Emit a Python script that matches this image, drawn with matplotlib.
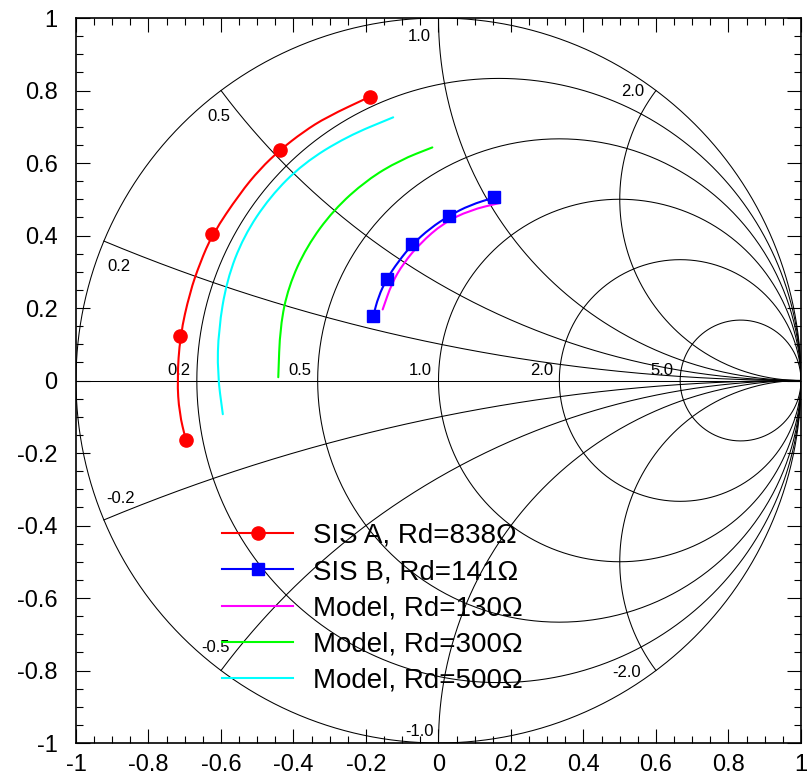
"""
Smith chart: measured SIS junction impedances vs. model curves for several Rd.
Grid is a plain impedance Smith chart (r and x circles), data drawn on top.
"""

import numpy as np
import matplotlib
matplotlib.use("Agg")
import matplotlib.pyplot as plt
from matplotlib.path import Path
from matplotlib.patches import PathPatch

plt.rcParams["font.family"] = ["Liberation Sans", "DejaVu Sans"]

# ---------------------------------------------------------------------------
# Data (reflection coefficient, re / im)
# ---------------------------------------------------------------------------
sis_a_pts_x = [-0.189, -0.437, -0.624, -0.713, -0.697]
sis_a_pts_y = [0.783, 0.636, 0.403, 0.123, -0.164]
sis_a_line_x = [-0.189, -0.308, -0.373, -0.437, -0.492, -0.548, -0.624,
                -0.658, -0.686, -0.713, -0.721, -0.715, -0.697]
sis_a_line_y = [0.783, 0.727, 0.686, 0.636, 0.584, 0.516, 0.403,
                0.324, 0.243, 0.123, 0.001, -0.090, -0.164]

sis_b_pts_x = [0.154, 0.030, -0.072, -0.143, -0.180]
sis_b_pts_y = [0.505, 0.455, 0.376, 0.280, 0.178]
sis_b_line_x = [0.154, 0.087, 0.030, -0.023, -0.072, -0.111, -0.143, -0.166, -0.180]
sis_b_line_y = [0.505, 0.484, 0.455, 0.420, 0.376, 0.328, 0.280, 0.231, 0.178]

model_130_x = [0.170, 0.087, 0.013, -0.051, -0.097, -0.129, -0.154]
model_130_y = [0.490, 0.470, 0.434, 0.378, 0.323, 0.268, 0.196]

model_300_x = [-0.017, -0.106, -0.198, -0.290, -0.364, -0.414, -0.437, -0.442]
model_300_y = [0.643, 0.608, 0.553, 0.470, 0.369, 0.259, 0.148, 0.009]

model_500_x = [-0.125, -0.253, -0.373, -0.465, -0.538, -0.584, -0.607, -0.610, -0.595]
model_500_y = [0.726, 0.673, 0.599, 0.507, 0.397, 0.277, 0.139, 0.020, -0.093]

# grid values
R_CIRCLES = [0.0, 0.2, 0.5, 1.0, 2.0, 5.0]
X_ARCS = [0.2, 0.5, 1.0, 2.0]
R_LABELS = ["0.2", "0.5", "1.0", "2.0", "5.0"]
X_LABELS = ["0.2", "0.5", "1.0", "2.0"]
ticks = [-1, -0.8, -0.6, -0.4, -0.2, 0, 0.2, 0.4, 0.6, 0.8, 1]
tick_labels = ["-1", "-0.8", "-0.6", "-0.4", "-0.2", "0", "0.2", "0.4", "0.6", "0.8", "1"]

GRID_KW = dict(color="black", lw=0.75, zorder=1)


# ---------------------------------------------------------------------------
# Smith chart grid
# ---------------------------------------------------------------------------
def z_to_gamma(z):
    return (z - 1) / (z + 1)


def draw_grid(ax):
    t = np.linspace(0, 2 * np.pi, 721)
    for r in R_CIRCLES:
        c, rad = r / (1 + r), 1 / (1 + r)
        ax.plot(c + rad * np.cos(t), rad * np.sin(t), **GRID_KW)
    r_vals = np.concatenate([[0], np.logspace(-3, 4, 600)])
    for x in X_ARCS:
        for sign in (1, -1):
            g = z_to_gamma(r_vals + 1j * sign * x)
            ax.plot(g.real, g.imag, **GRID_KW)
    ax.plot([-1, 1], [0, 0], **GRID_KW)

    # resistance labels sit just left of where each circle hits the real axis
    for r, lab in zip(R_CIRCLES[1:], R_LABELS):
        ax.annotate(lab, ((r - 1) / (r + 1), 0), xytext=(-13, 7),
                    textcoords="offset points", ha="center", va="center", fontsize=12)

    # reactance labels near the rim
    offsets = {0.2: (10.8, -18.5), 0.5: (-1.5, -18.7), 1.0: (-14, -13.5), 2.0: (-16.5, -0.7)}
    neg_offsets = {0.2: (12.2, 15.1), 0.5: (-4.3, 16.6), 1.0: (-13.7, 8.6), 2.0: (-20.9, -1.4)}
    for x, lab in zip(X_ARCS, X_LABELS):
        g = z_to_gamma(1j * x)
        ax.annotate(lab, (g.real, g.imag), xytext=offsets[x], textcoords="offset points",
                    ha="center", va="center", fontsize=12)
        ax.annotate("-" + lab, (g.real, -g.imag), xytext=neg_offsets[x],
                    textcoords="offset points", ha="center", va="center", fontsize=12)


def smooth_curve(ax, xs, ys, color, lw):
    """Draw the read points as a smooth quadratic-Bezier path (midpoint scheme),
    so the traced arcs don't show corners at every sample."""
    pts = np.column_stack([xs, ys])
    mids = (pts[:-1] + pts[1:]) / 2
    verts = [pts[0], mids[0]]
    codes = [Path.MOVETO, Path.LINETO]
    for i in range(1, len(pts) - 1):
        verts += [pts[i], mids[i]]
        codes += [Path.CURVE3, Path.CURVE3]
    verts.append(pts[-1])
    codes.append(Path.LINETO)
    ax.add_patch(PathPatch(Path(verts, codes), fill=False, edgecolor=color,
                           lw=lw, zorder=3, capstyle="round"))


# ---------------------------------------------------------------------------
# Figure
# ---------------------------------------------------------------------------
fig = plt.figure(figsize=(8.11, 7.75), dpi=100)
ax = fig.add_axes([76 / 811, 32 / 775, 725 / 811, 725 / 775])

draw_grid(ax)

lw = 1.5
smooth_curve(ax, sis_a_line_x, sis_a_line_y, "#ff0000", lw)
ax.plot(sis_a_pts_x, sis_a_pts_y, "o", color="#ff0000", ms=9.5, zorder=4)
smooth_curve(ax, sis_b_line_x, sis_b_line_y, "#0000ff", lw)
ax.plot(sis_b_pts_x, sis_b_pts_y, "s", color="#0000ff", ms=9, zorder=4)
smooth_curve(ax, model_130_x, model_130_y, "#ff00ff", lw)
smooth_curve(ax, model_300_x, model_300_y, "#00ff00", lw)
smooth_curve(ax, model_500_x, model_500_y, "#00ffff", lw)

# legend proxies (line + single marker)
h_a, = ax.plot([], [], "-o", color="#ff0000", lw=lw, ms=9.5)
h_b, = ax.plot([], [], "-s", color="#0000ff", lw=lw, ms=9)
h_130, = ax.plot([], [], color="#ff00ff", lw=lw)
h_300, = ax.plot([], [], color="#00ff00", lw=lw)
h_500, = ax.plot([], [], color="#00ffff", lw=lw)
ax.legend([h_a, h_b, h_130, h_300, h_500],
          ["SIS A, Rd=838\u03a9", "SIS B, Rd=141\u03a9", "Model, Rd=130\u03a9",
           "Model, Rd=300\u03a9", "Model, Rd=500\u03a9"],
          loc="upper left", bbox_to_anchor=(0.2014, 0.3035), frameon=False,
          fontsize=20, numpoints=1, borderpad=0, borderaxespad=0,
          handlelength=2.56, handletextpad=0.72, labelspacing=0.365)

ax.set_xlim(-1, 1)
ax.set_ylim(-1, 1)
ax.set_xticks(ticks)
ax.set_xticklabels(tick_labels)
ax.set_yticks(ticks)
ax.set_yticklabels(tick_labels)
ax.set_xticks(np.arange(-1, 1.001, 0.05), minor=True)
ax.set_yticks(np.arange(-1, 1.001, 0.05), minor=True)
ax.tick_params(which="both", direction="in", top=True, right=True, width=0.8)
ax.tick_params(which="major", length=10, labelsize=17)
ax.tick_params(which="minor", length=5)
ax.tick_params(axis="x", which="major", pad=8)
ax.tick_params(axis="y", which="major", pad=13.3)
for sp in ax.spines.values():
    sp.set_linewidth(1.2)

fig.savefig("out.png", dpi=100)
